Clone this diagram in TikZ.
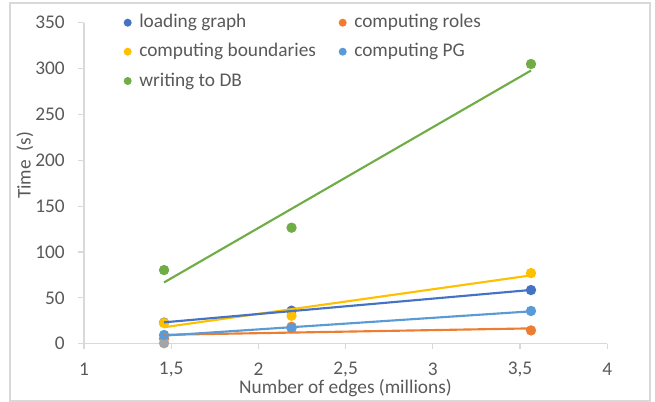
\documentclass[tikz,border=0pt]{standalone}
\usepackage{fontspec}
\setmainfont{Carlito}
\definecolor{cblue}{HTML}{4472C4}
\definecolor{corange}{HTML}{ED7D31}
\definecolor{cgray}{HTML}{A5A5A5}
\definecolor{cyellow}{HTML}{FFC000}
\definecolor{clblue}{HTML}{5B9BD5}
\definecolor{cgreen}{HTML}{70AD47}
\definecolor{gridc}{HTML}{D9D9D9}
\definecolor{txtc}{HTML}{595959}
\tikzset{
  lbl/.style={text=txtc, font=\fontsize{14.5}{17}\selectfont, inner sep=0pt},
  axisline/.style={draw=gridc, line width=0.9pt},
  trend/.style={line width=1.6pt},
}
\begin{document}
\begin{tikzpicture}[x=0.75pt,y=-0.75pt]
\useasboundingbox (0,0) rectangle (655,402);
\draw[gridc, line width=0.8pt] (10,3) rectangle (650,401);
% axes
\draw[axisline] (84,22.7) -- (84,343.7) -- (607.3,343.7);
\foreach \v [count=\i from 0] in {0,50,...,350} {
  \pgfmathsetmacro{\yy}{343.7-0.917*\v}
  \draw[axisline] (78,\yy) -- (84,\yy);
  \node[lbl, anchor=east] (yl\i) at (65,\yy) {\v};
}
\foreach \v/\t [count=\i] in {1/1,1.5/{1,5},2/2,2.5/{2,5},3/3,3.5/{3,5},4/4} {
  \pgfmathsetmacro{\xx}{84+174.4*(\v-1)}
  \draw[axisline] (\xx,343.7) -- (\xx,349);
  \node[lbl] (xl\i) at (\xx,369.5) {\t};
}
\node[lbl, rotate=90] (ytitle) at (25,165.5) {Time\ \ (s)};
\node[lbl] (xtitle) at (345.5,388.5) {Number of edges (millions)};
% data
\begin{scope}[xshift=-67.8pt, yshift=-257.775pt, x=130.8pt, y=0.68775pt]
  % markers
  \foreach \c/\pts in {
    cblue/{(1.459,23),(2.19,36),(3.563,58.5)},
    corange/{(1.459,5.5),(2.19,18.5),(3.563,14.5)},
    cgray/{(1.459,0.5)},
    cyellow/{(1.459,22.6),(2.19,30.5),(3.563,77)},
    clblue/{(1.459,9.5),(2.19,16.8),(3.563,35.7)},
    cgreen/{(1.459,80.3),(2.19,126.5),(3.563,305)}} {
    \foreach \p in \pts { \fill[\c] \p circle[radius=3.9pt]; }
  }
  % trendlines
  \coordinate (b1) at (1.459,23.3);  \coordinate (b2) at (3.563,58.6);
  \coordinate (o1) at (1.459,9.7);   \coordinate (o2) at (3.563,16.7);
  \coordinate (y1) at (1.459,18.0);  \coordinate (y2) at (3.563,74.5);
  \coordinate (l1) at (1.459,8.8);   \coordinate (l2) at (3.563,35.3);
  \coordinate (g1) at (1.459,66.8);  \coordinate (g2) at (3.563,297.9);
  \draw[trend, corange] (o1) -- (o2);
  \draw[trend, clblue] (l1) -- (l2);
  \draw[trend, cyellow] (y1) -- (y2);
  \draw[trend, cblue] (b1) -- (b2);
  \draw[trend, cgreen] (g1) -- (g2);
\end{scope}
% legend
\foreach \c/\t/\x/\y [count=\i] in {
  cblue/loading graph/127.7/22.7,
  corange/computing roles/342.7/22.7,
  cyellow/computing boundaries/127.7/51.7,
  clblue/computing PG/342.7/51.7,
  cgreen/writing to DB/127.7/81} {
  \fill[\c] (\x,\y) circle[radius=3pt];
  \node[lbl, anchor=west] (leg\i) at (\x+11.3,\y) {\t};
}
\end{tikzpicture}
\end{document}
